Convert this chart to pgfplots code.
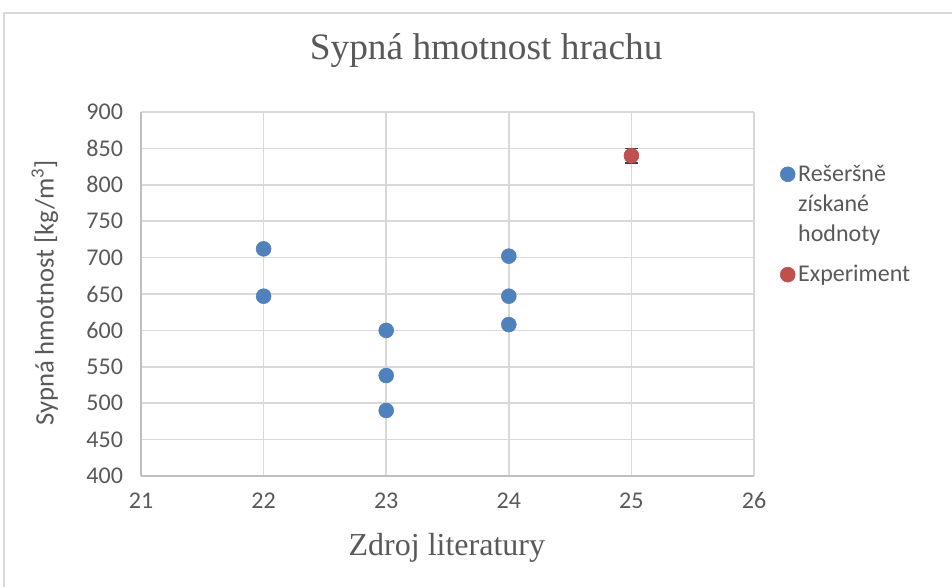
\documentclass[border=0pt]{standalone}
\usepackage{fontspec}
\setmainfont{Carlito}
\newfontfamily\serifx{Liberation Serif}
\usepackage{pgfplots}
\pgfplotsset{compat=1.18}
\definecolor{txt}{HTML}{595959}
\definecolor{grd}{HTML}{D9D9D9}
\definecolor{axl}{HTML}{BFBFBF}
\definecolor{sblue}{HTML}{4F81BD}
\definecolor{sred}{HTML}{C0504D}
\definecolor{errc}{HTML}{404040}
\begin{document}
\begin{tikzpicture}
\useasboundingbox (0,0) rectangle (714pt,439.5pt);
\fill[white] (0,0) rectangle (714pt,439.5pt);
\draw[grd, line width=0.9pt] (3pt,-20pt) rectangle (740pt,429.75pt);
\begin{axis}[
  at={(105.75pt,82.5pt)}, anchor=south west,
  scale only axis, width=459.75pt, height=273pt,
  xmin=21, xmax=26, ymin=400, ymax=900,
  xtick={21,22,...,26}, ytick={400,450,...,900},
  grid=major, major grid style={grd, line width=1.1pt},
  axis line style={axl, line width=1.1pt},
  axis x line*=bottom, axis y line*=left,
  major tick length=0pt,
  /pgf/number format/assume math mode=true,
  /pgf/number format/1000 sep={},
  tick label style={font=\fontsize{18pt}{21pt}\selectfont, text=txt},
  yticklabel style={xshift=-10pt},
  xticklabel style={yshift=-9pt},
  title={Sypná hmotnost hrachu},
  title style={font=\serifx\fontsize{28pt}{33pt}\selectfont, text=txt, at={(rel axis cs:0.563,1.148)}, anchor=center},
  xlabel={Zdroj literatury},
  xlabel style={font=\serifx\fontsize{24pt}{28pt}\selectfont, text=txt, at={(rel axis cs:0.499,-0.198)}, anchor=center},
  ylabel={Sypná hmotnost [kg/m\textsuperscript{3}]},
  ylabel style={font=\fontsize{20pt}{24pt}\selectfont, text=txt, at={(rel axis cs:-0.157,0.503)}, anchor=center, rotate=0},
  legend style={at={(rel axis cs:1.042,0.862)}, anchor=north west, draw=none, fill=none,
    font=\fontsize{18pt}{22.5pt}\selectfont, text=txt,
    cells={align=left, anchor=west}, row sep=12.5pt, inner sep=0pt,
    /tikz/every even column/.append style={column sep=4pt}},
]
\addplot[only marks, mark=*, mark size=5.6pt, color=sblue, mark options={fill=sblue, draw=sblue},
  legend image code/.code={\pgfpathrectangle{\pgfpoint{-5.6pt}{-28.1pt}}{\pgfpoint{11.2pt}{56.2pt}}\pgfusepath{use as bounding box}\fill[sblue] (0,22.5pt) circle (5.6pt);}]
  coordinates {(22,712) (22,647) (23,600) (23,538) (23,490) (24,702) (24,647) (24,608)};
\addlegendentry{Rešeršně\\získané\\hodnoty}
\addplot[only marks, mark=*, mark size=5.6pt, color=sred, mark options={fill=sred, draw=sred},
  legend image code/.code={\fill[sred] (0,0) circle (5.6pt);},
  error bars/.cd, y dir=both, y explicit,
  error bar style={errc, line width=1.1pt},
  error mark options={rotate=90, mark size=4.9pt, errc, line width=1.1pt}]
  coordinates {(25,840) +- (0,10)};
\addlegendentry{Experiment}
\end{axis}
\end{tikzpicture}
\end{document}
